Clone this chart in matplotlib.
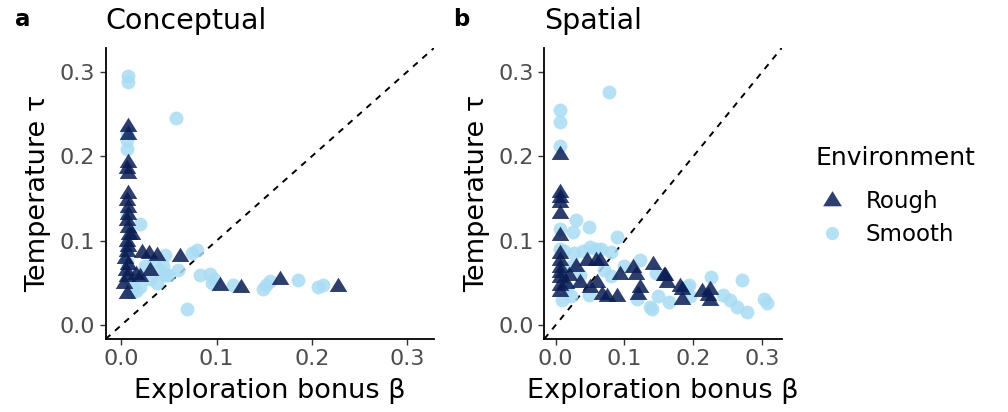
import matplotlib
matplotlib.use("Agg")
import matplotlib.pyplot as plt
from matplotlib.lines import Line2D
import numpy as np

plt.rcParams['font.family'] = ['DejaVu Sans']

# ---------------- data ----------------
conc_rough_beta = [0.007, 0.007, 0.007, 0.006, 0.007, 0.007, 0.006, 0.007, 0.007, 0.006,
                   0.007, 0.008, 0.011, 0.006, 0.007, 0.006, 0.004, 0.007, 0.005, 0.006,
                   0.003, 0.006, 0.022, 0.029, 0.037, 0.062, 0.016, 0.030, 0.020, 0.104,
                   0.126, 0.166, 0.227]
conc_rough_tau = [0.236, 0.226, 0.193, 0.186, 0.180, 0.156, 0.148, 0.140, 0.132, 0.124,
                  0.116, 0.108, 0.108, 0.100, 0.094, 0.088, 0.080, 0.072, 0.065, 0.058,
                  0.050, 0.038, 0.087, 0.085, 0.083, 0.082, 0.061, 0.065, 0.058, 0.048,
                  0.045, 0.055, 0.046]

conc_smooth_beta = [0.007, 0.007, 0.057, 0.006, 0.006, 0.006, 0.006, 0.020, 0.006, 0.006,
                    0.008, 0.008, 0.012, 0.010, 0.020, 0.015, 0.046, 0.074, 0.079, 0.037,
                    0.046, 0.049, 0.044, 0.034, 0.025, 0.040, 0.083, 0.093, 0.097, 0.095,
                    0.117, 0.149, 0.152, 0.156, 0.185, 0.206, 0.212, 0.069, 0.060, 0.030]
conc_smooth_tau = [0.295, 0.288, 0.245, 0.229, 0.219, 0.209, 0.130, 0.120, 0.090, 0.075,
                   0.065, 0.055, 0.048, 0.039, 0.045, 0.040, 0.083, 0.085, 0.089, 0.050,
                   0.060, 0.060, 0.070, 0.075, 0.070, 0.065, 0.059, 0.061, 0.055, 0.050,
                   0.048, 0.043, 0.047, 0.052, 0.054, 0.045, 0.047, 0.019, 0.065, 0.055]

spat_rough_beta = [0.006, 0.006, 0.006, 0.006, 0.006, 0.006, 0.006, 0.006, 0.006, 0.006,
                   0.006, 0.006, 0.006, 0.046, 0.058, 0.065, 0.036, 0.060, 0.067, 0.089,
                   0.094, 0.075, 0.113, 0.116, 0.142, 0.159, 0.161, 0.123, 0.120, 0.157,
                   0.181, 0.183, 0.183, 0.212, 0.224, 0.224, 0.221, 0.020, 0.030, 0.015,
                   0.050]
spat_rough_tau = [0.203, 0.158, 0.152, 0.146, 0.133, 0.107, 0.085, 0.077, 0.069, 0.063,
                  0.057, 0.048, 0.041, 0.077, 0.077, 0.077, 0.051, 0.051, 0.037, 0.034,
                  0.061, 0.034, 0.069, 0.061, 0.073, 0.059, 0.051, 0.045, 0.037, 0.059,
                  0.046, 0.031, 0.043, 0.041, 0.043, 0.030, 0.036, 0.060, 0.070, 0.050,
                  0.045]

spat_smooth_beta = [0.077, 0.006, 0.006, 0.006, 0.029, 0.048, 0.026, 0.006, 0.089, 0.006,
                    0.012, 0.027, 0.040, 0.050, 0.058, 0.066, 0.080, 0.024, 0.010, 0.022,
                    0.048, 0.080, 0.123, 0.145, 0.118, 0.140, 0.149, 0.164, 0.190, 0.193,
                    0.195, 0.226, 0.270, 0.243, 0.253, 0.263, 0.277, 0.303, 0.306, 0.137,
                    0.035, 0.070, 0.100, 0.016]
spat_smooth_tau = [0.276, 0.255, 0.241, 0.212, 0.125, 0.116, 0.110, 0.114, 0.104, 0.090,
                   0.088, 0.085, 0.088, 0.092, 0.090, 0.090, 0.087, 0.070, 0.030, 0.034,
                   0.036, 0.058, 0.077, 0.062, 0.031, 0.019, 0.034, 0.028, 0.045, 0.047,
                   0.034, 0.057, 0.053, 0.036, 0.030, 0.022, 0.016, 0.031, 0.026, 0.022,
                   0.060, 0.065, 0.070, 0.045]

panel_letters = ["a", "b"]
panel_titles = ["Conceptual", "Spatial"]
ticks = [0.0, 0.1, 0.2, 0.3]
tick_labels = ["0.0", "0.1", "0.2", "0.3"]
env_labels = ["Rough", "Smooth"]
legend_title = "Environment"

# ---------------- style ----------------
rough_color = "#0A1D54"
smooth_color = "#A9DCF4"
alpha = 0.85
tri = [(-1.0, -0.62), (1.0, -0.62), (0.0, 1.0)]
tri_s = 12.7 ** 2
circ_s = 10.0 ** 2
lim = (-0.0163, 0.328)

fig = plt.figure(figsize=(10.08, 4.12), dpi=100)
W, H = 1008.0, 412.0
axes_px = [(105.7, 434.0), (544.3, 781.7)]
bottom_px, top_px = 339.0, 48.0

data = [
    (conc_rough_beta, conc_rough_tau, conc_smooth_beta, conc_smooth_tau),
    (spat_rough_beta, spat_rough_tau, spat_smooth_beta, spat_smooth_tau),
]

for i, (l_px, r_px) in enumerate(axes_px):
    ax = fig.add_axes([l_px / W, (H - bottom_px) / H, (r_px - l_px) / W, (bottom_px - top_px) / H])
    rb, rt, sb, st = data[i]
    ax.axline((0, 0), slope=1, ls=(0, (3.2, 3.2)), color="black", lw=1.4, zorder=1)
    ax.scatter(sb, st, marker="o", s=circ_s, color=smooth_color, alpha=alpha, linewidths=0, zorder=2)
    ax.scatter(rb, rt, marker=tri, s=tri_s, color=rough_color, alpha=alpha, linewidths=0, zorder=3)
    ax.set_xlim(*lim)
    ax.set_ylim(*lim)
    ax.set_xticks(ticks)
    ax.set_xticklabels(tick_labels)
    ax.set_yticks(ticks)
    ax.set_yticklabels(tick_labels)
    for s in ["top", "right"]:
        ax.spines[s].set_visible(False)
    for s in ["left", "bottom"]:
        ax.spines[s].set_linewidth(1.3)
        ax.spines[s].set_color("black")
    ax.tick_params(axis="both", length=4.5, width=1.0, color="#333333",
                   labelsize=16, labelcolor="#4D4D4D", pad=3)
    ax.set_xlabel("Exploration bonus β", fontsize=19.5, labelpad=6)
    ax.set_ylabel("Temperature τ", fontsize=19.5, labelpad=6)
    ax.set_title(panel_titles[i], loc="left", fontsize=20.5, pad=13.5)
    fig.text((l_px - 91) / W, 1 - 26 / H, panel_letters[i], fontsize=16.5,
             fontweight="bold", va="baseline", ha="left")

handles = [
    Line2D([], [], marker=tri, markersize=13.5, color=rough_color, alpha=alpha, linestyle="", markeredgewidth=0),
    Line2D([], [], marker="o", markersize=9.5, color=smooth_color, alpha=alpha, linestyle="", markeredgewidth=0),
]
fig.text(816 / W, 1 - 165 / H, legend_title, fontsize=18, va="baseline", ha="left")
leg = fig.legend(handles, env_labels, loc="center left",
                 bbox_to_anchor=(816 / W, 1 - 218 / H), frameon=False,
                 fontsize=16.5,
                 handlelength=1.4, handletextpad=0.75, labelspacing=0.45,
                 borderpad=0, borderaxespad=0)

fig.savefig("out.png", dpi=100)
